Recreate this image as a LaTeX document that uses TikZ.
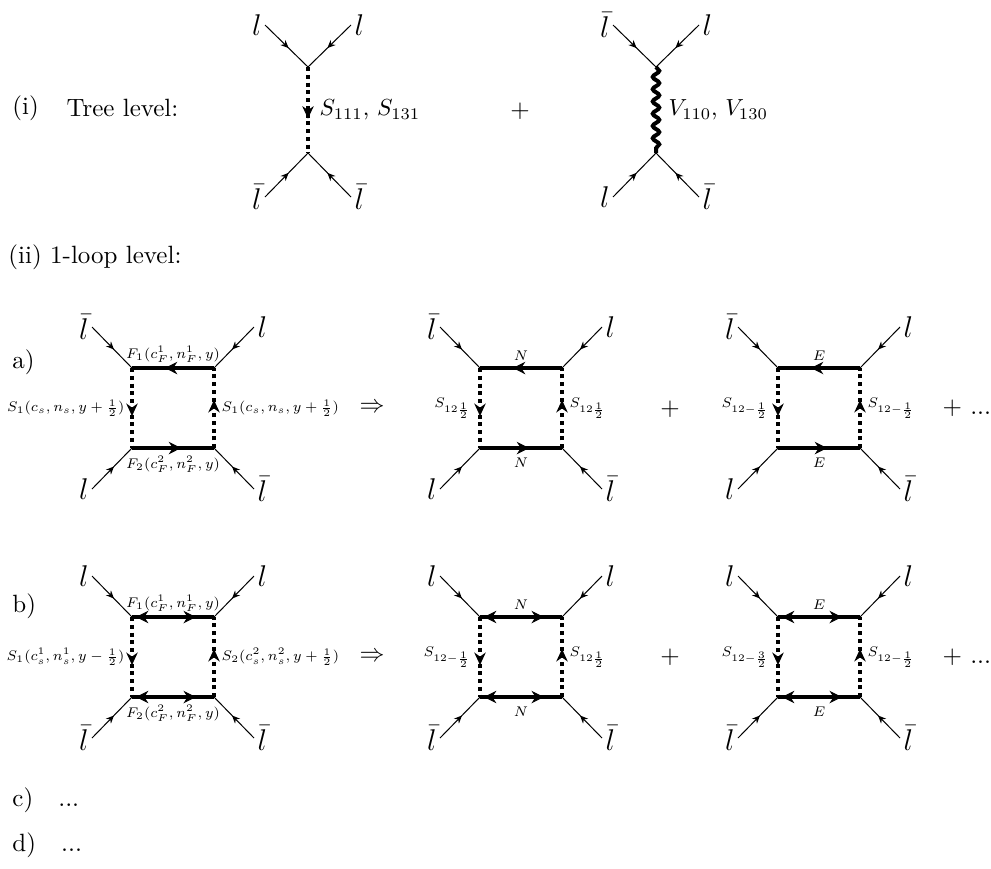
\documentclass[tikz,border=0pt]{standalone}
\usetikzlibrary{arrows.meta,decorations.markings,decorations.pathmorphing}

\tikzset{
  leg/.style={thin, postaction={decorate},
    decoration={markings, mark=at position 0.55 with {\arrow{Stealth[length=3.2pt,width=2.8pt]}}}},
  fermion/.style={line width=1.6pt, postaction={decorate},
    decoration={markings, mark=at position 0.6 with {\arrow{Stealth[length=5pt,width=5pt,line width=0.4pt]}}}},
  majorana/.style={line width=1.6pt, postaction={decorate},
    decoration={markings,
      mark=at position 0.2 with {\arrow{Stealth[length=5pt,width=5pt,line width=0.4pt,reversed]}},
      mark=at position 0.78 with {\arrow{Stealth[length=5pt,width=5pt,line width=0.4pt]}}}},
  scalar/.style={line width=1.6pt, dash pattern=on 1.6pt off 1.5pt, postaction={decorate},
    decoration={markings, mark=at position 0.6 with {\arrow{Stealth[length=5pt,width=4.6pt,line width=0.4pt]}}}},
  vector/.style={line width=1.6pt, decorate, decoration={snake, amplitude=1.3pt, segment length=4.9pt}},
  ext/.style={font=\large, inner sep=1.2pt},
  lab/.style={font=\scriptsize, scale=0.8, inner sep=1pt},
  rowlabel/.style={anchor=west, inner sep=0pt},
}

% two lepton legs in, two out, with a vertical propagator between them
\newcommand{\legtree}[6]{%
  \coordinate (#1-u) at (#2,67);
  \coordinate (#1-d) at (#2,153);
  \coordinate (#1-otl) at (#2-43,25);
  \coordinate (#1-otr) at (#2+43,25);
  \coordinate (#1-obl) at (#2-43,197);
  \coordinate (#1-obr) at (#2+43,197);
  \draw[leg] (#1-otl) -- (#1-u);
  \draw[leg] (#1-otr) -- (#1-u);
  \draw[leg] (#1-obl) -- (#1-d);
  \draw[leg] (#1-obr) -- (#1-d);
  \node[ext,anchor=east] (#1-ntl) at (#1-otl) {$#3$};
  \node[ext,anchor=west] (#1-ntr) at (#1-otr) {$#4$};
  \node[ext,anchor=east] (#1-nbl) at (#1-obl) {$#5$};
  \node[ext,anchor=west] (#1-nbr) at (#1-obr) {$#6$};
}

% box corners and the four external lepton legs
\newcommand{\legbox}[7]{%
  \coordinate (#1-tl) at (#2,#3);
  \coordinate (#1-tr) at (#2+82,#3);
  \coordinate (#1-bl) at (#2,#3+80);
  \coordinate (#1-br) at (#2+82,#3+80);
  \coordinate (#1-otl) at (#2-40,#3-41);
  \coordinate (#1-otr) at (#2+122,#3-41);
  \coordinate (#1-obl) at (#2-40,#3+121);
  \coordinate (#1-obr) at (#2+122,#3+121);
  \draw[leg] (#1-otl) -- (#1-tl);
  \draw[leg] (#1-otr) -- (#1-tr);
  \draw[leg] (#1-obl) -- (#1-bl);
  \draw[leg] (#1-obr) -- (#1-br);
  \node[ext,anchor=east] (#1-ntl) at (#1-otl) {$#4$};
  \node[ext,anchor=west] (#1-ntr) at (#1-otr) {$#5$};
  \node[ext,anchor=east] (#1-nbl) at (#1-obl) {$#6$};
  \node[ext,anchor=west] (#1-nbr) at (#1-obr) {$#7$};
}

\begin{document}
\begin{tikzpicture}[x=0.4pt,y=-0.4pt]
\useasboundingbox (0,0) rectangle (991,868);

% (i) tree level
\node[rowlabel] (tree-tag) at (12,108) {(i)};
\node[rowlabel] (tree-text) at (66,108) {Tree level:};
\legtree{t1}{308}{l}{l}{\bar l}{\bar l}
\draw[scalar] (t1-u) -- (t1-d) node[midway,right=3pt,inner sep=1pt,scale=0.93] (t1-lab) {$S_{111}$, $S_{131}$};
\node (tree-plus) at (520,111) {$+$};
\legtree{t2}{656}{\bar l}{l}{l}{\bar l}
\draw[vector] (t2-u) -- (t2-d) node[midway,right=3.4pt,inner sep=1pt,scale=0.93] (t2-lab) {$V_{110}$, $V_{130}$};

% (ii) 1-loop level
\node[rowlabel] (loop-text) at (8,257) {(ii) 1-loop level:};

% a)
\node[rowlabel] (a-tag) at (12,362) {a)};
\legbox{a1}{132}{368}{\bar l}{l}{l}{\bar l}
\draw[fermion] (a1-tr) -- (a1-tl) node[lab,midway,above=1pt] (a1-n) {$F_1(c_F^1,n_F^1,y)$};
\draw[fermion] (a1-bl) -- (a1-br) node[lab,midway,below=2pt] (a1-s) {$F_2(c_F^2,n_F^2,y)$};
\draw[scalar] (a1-tl) -- (a1-bl) node[lab,midway,left=2pt] (a1-w) {$S_1(c_s,n_s,y+\frac{1}{2})$};
\draw[scalar] (a1-br) -- (a1-tr) node[lab,midway,right=2pt] (a1-e) {$S_1(c_s,n_s,y+\frac{1}{2})$};
\node (a-then) at (372,408) {$\Rightarrow$};

\legbox{a2}{480}{368}{\bar l}{l}{l}{\bar l}
\draw[fermion] (a2-tr) -- (a2-tl) node[lab,midway,above=2.2pt] (a2-n) {$N$};
\draw[fermion] (a2-bl) -- (a2-br) node[lab,midway,below=3pt] (a2-s) {$N$};
\draw[scalar] (a2-tl) -- (a2-bl) node[lab,midway,left=3pt] (a2-w) {$S_{12\frac{1}{2}}$};
\draw[scalar] (a2-br) -- (a2-tr) node[lab,midway,right=2pt] (a2-e) {$S_{12\frac{1}{2}}$};
\node (a-plus) at (670,409) {$+$};

\legbox{a3}{778}{368}{\bar l}{l}{l}{\bar l}
\draw[fermion] (a3-tr) -- (a3-tl) node[lab,midway,above=2.2pt] (a3-n) {$E$};
\draw[fermion] (a3-bl) -- (a3-br) node[lab,midway,below=3pt] (a3-s) {$E$};
\draw[scalar] (a3-tl) -- (a3-bl) node[lab,midway,left=3pt] (a3-w) {$S_{12-\frac{1}{2}}$};
\draw[scalar] (a3-br) -- (a3-tr) node[lab,midway,right=2pt] (a3-e) {$S_{12-\frac{1}{2}}$};
\node[rowlabel] (a-more) at (942,408) {$+$ ...};

% b)
\node[rowlabel] (b-tag) at (12,606) {b)};
\legbox{b1}{132}{617}{l}{l}{\bar l}{\bar l}
\draw[majorana] (b1-tl) -- (b1-tr) node[lab,midway,above=1pt] (b1-n) {$F_1(c_F^1,n_F^1,y)$};
\draw[majorana] (b1-bl) -- (b1-br) node[lab,midway,below=2pt] (b1-s) {$F_2(c_F^2,n_F^2,y)$};
\draw[scalar] (b1-tl) -- (b1-bl) node[lab,midway,left=2pt] (b1-w) {$S_1(c_s^1,n_s^1,y-\frac{1}{2})$};
\draw[scalar] (b1-br) -- (b1-tr) node[lab,midway,right=2pt] (b1-e) {$S_2(c_s^2,n_s^2,y+\frac{1}{2})$};
\node (b-then) at (372,657) {$\Rightarrow$};

\legbox{b2}{480}{617}{l}{l}{\bar l}{\bar l}
\draw[majorana] (b2-tl) -- (b2-tr) node[lab,midway,above=2.2pt] (b2-n) {$N$};
\draw[majorana] (b2-bl) -- (b2-br) node[lab,midway,below=3pt] (b2-s) {$N$};
\draw[scalar] (b2-tl) -- (b2-bl) node[lab,midway,left=3pt] (b2-w) {$S_{12-\frac{1}{2}}$};
\draw[scalar] (b2-br) -- (b2-tr) node[lab,midway,right=2pt] (b2-e) {$S_{12\frac{1}{2}}$};
\node (b-plus) at (670,657) {$+$};

\legbox{b3}{778}{617}{l}{l}{\bar l}{\bar l}
\draw[majorana] (b3-tl) -- (b3-tr) node[lab,midway,above=2.2pt] (b3-n) {$E$};
\draw[majorana] (b3-bl) -- (b3-br) node[lab,midway,below=3pt] (b3-s) {$E$};
\draw[scalar] (b3-tl) -- (b3-bl) node[lab,midway,left=3pt] (b3-w) {$S_{12-\frac{3}{2}}$};
\draw[scalar] (b3-br) -- (b3-tr) node[lab,midway,right=2pt] (b3-e) {$S_{12-\frac{1}{2}}$};
\node[rowlabel] (b-more) at (942,657) {$+$ ...};

% c), d)
\node[rowlabel] (c-tag) at (12,800) {c)\quad ...};
\node[rowlabel] (d-tag) at (12,845) {d)\quad ...};
\end{tikzpicture}
\end{document}
